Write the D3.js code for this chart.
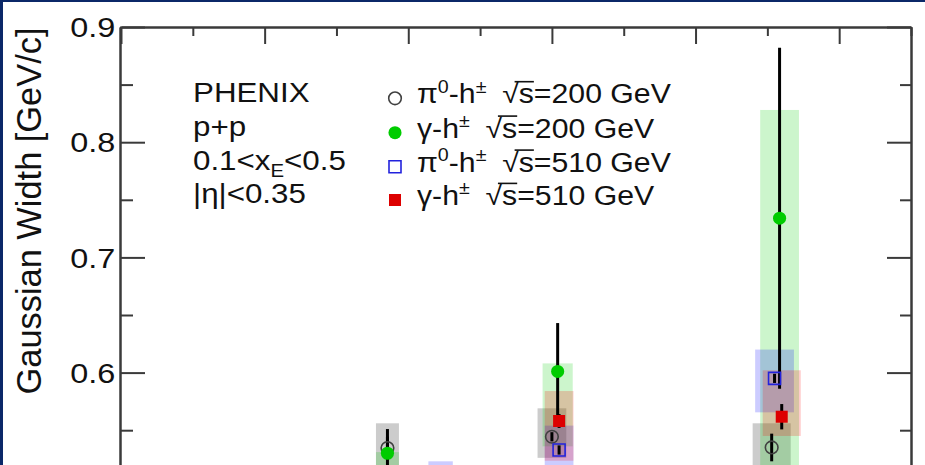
<!DOCTYPE html>
<html>
<head>
<meta charset="utf-8">
<script src="https://cdn.jsdelivr.net/npm/d3@7"></script>
<style>
  body { margin: 0; background: #fff; overflow: hidden; }
  svg { display: block; }
</style>
</head>
<body>
<div id="chart"></div>
<script>
// ---- data ----
var xMajor = [0, 2, 4, 6, 8, 10];
var xMinor = [1, 3, 5, 7, 9, 11];
var yMajor = [0.4, 0.5, 0.6, 0.7, 0.8, 0.9];
var yMinor = [0.45, 0.55, 0.65, 0.75, 0.85];
var yTickLabels = ["0.4", "0.5", "0.6", "0.7", "0.8", "0.9"];

// pi0-h, sqrt(s)=200 GeV
var pi0_200_x     = [3.71, 6.00, 9.06];
var pi0_200_w     = [0.16, 0.20, 0.265];
var pi0_200_val   = [0.5345, 0.5443, 0.535];
var pi0_200_stat  = [0.010, 0.004, 0.012];
var pi0_200_sysHi = [0.556, 0.569, 0.556];
var pi0_200_sysLo = [0.513, 0.526, 0.514];

// gamma-h, sqrt(s)=200 GeV
var gam_200_x     = [3.71, 6.08, 9.17];
var gam_200_w     = [0.16, 0.21, 0.27];
var gam_200_val   = [0.530, 0.601, 0.734];
var gam_200_stat  = [0.021, 0.042, 0.148];
var gam_200_sysHi = [0.531, 0.608, 0.828];
var gam_200_sysLo = [0.450, 0.536, 0.480];

// pi0-h, sqrt(s)=510 GeV
var pi0_510_x     = [4.45, 6.10, 9.10];
var pi0_510_w     = [0.17, 0.20, 0.27];
var pi0_510_val   = [0.496, 0.5328, 0.595];
var pi0_510_stat  = [0.004, 0.004, 0.004];
var pi0_510_sysHi = [0.523, 0.554, 0.620];
var pi0_510_sysLo = [0.469, 0.512, 0.5655];

// gamma-h, sqrt(s)=510 GeV
var gam_510_x     = [4.45, 6.10, 9.20];
var gam_510_w     = [0.17, 0.20, 0.265];
var gam_510_val   = [0.470, 0.558, 0.5617];
var gam_510_stat  = [0.010, 0.006, 0.011];
var gam_510_sysHi = [0.495, 0.584, 0.602];
var gam_510_sysLo = [0.445, 0.5235, 0.545];

var legendParticle = ["π", "γ", "π", "γ"];
var legendEnergy   = ["200", "200", "510", "510"];
var infoLines      = ["PHENIX", "p+p", "0.1<x_E<0.5", "|η|<0.35"];
var yTitle = "Gaussian Width [GeV/c]";

// ---- setup ----
var W = 925, H = 465;
var font = "'Liberation Sans', Arial, sans-serif";
var fs = 27;

var svg = d3.select('#chart').append('svg')
    .attr('width', W)
    .attr('height', H)
    .style('font-family', font);

var x = d3.scaleLinear().domain([0, 11]).range([121, 911]);
var y = d3.scaleLinear().domain([0.4, 0.9]).range([603, 27]);

var series = [
    {x: pi0_200_x, w: pi0_200_w, v: pi0_200_val, st: pi0_200_stat, hi: pi0_200_sysHi, lo: pi0_200_sysLo,
     box: 'rgba(0,0,0,0.2)', sym: d3.symbolCircle, size: 125, fill: 'none', stroke: '#404040'},
    {x: gam_200_x, w: gam_200_w, v: gam_200_val, st: gam_200_stat, hi: gam_200_sysHi, lo: gam_200_sysLo,
     box: 'rgba(0,205,0,0.2)', sym: d3.symbolCircle, size: 135, fill: '#00cc00', stroke: 'none'},
    {x: pi0_510_x, w: pi0_510_w, v: pi0_510_val, st: pi0_510_stat, hi: pi0_510_sysHi, lo: pi0_510_sysLo,
     box: 'rgba(0,0,255,0.2)', sym: d3.symbolSquare, size: 144, fill: 'none', stroke: '#2222dd'},
    {x: gam_510_x, w: gam_510_w, v: gam_510_val, st: gam_510_stat, hi: gam_510_sysHi, lo: gam_510_sysLo,
     box: 'rgba(255,0,0,0.2)', sym: d3.symbolSquare, size: 144, fill: '#dd0000', stroke: 'none'}
];

// dark blue slide frame
svg.append('rect').attr('x', 0).attr('y', 0).attr('width', W).attr('height', 2).attr('fill', '#0b2868');
svg.append('rect').attr('x', 0).attr('y', 0).attr('width', 3).attr('height', H).attr('fill', '#0b2868');

// ---- systematic boxes ----
series.forEach(function (s) {
    svg.append('g').selectAll('rect')
        .data(d3.range(s.x.length))
        .enter().append('rect')
            .attr('x', function (i) { return x(s.x[i] - s.w[i]); })
            .attr('width', function (i) { return x(s.x[i] + s.w[i]) - x(s.x[i] - s.w[i]); })
            .attr('y', function (i) { return y(s.hi[i]); })
            .attr('height', function (i) { return y(s.lo[i]) - y(s.hi[i]); })
            .attr('fill', s.box);
});

// ---- statistical error bars ----
series.forEach(function (s) {
    svg.append('g').selectAll('line')
        .data(d3.range(s.x.length))
        .enter().append('line')
            .attr('x1', function (i) { return x(s.x[i]); })
            .attr('x2', function (i) { return x(s.x[i]); })
            .attr('y1', function (i) { return y(s.v[i] + s.st[i]); })
            .attr('y2', function (i) { return y(s.v[i] - s.st[i]); })
            .attr('stroke', '#000')
            .attr('stroke-width', 3);
});

// ---- markers ----
series.forEach(function (s) {
    svg.append('g').selectAll('path')
        .data(d3.range(s.x.length))
        .enter().append('path')
            .attr('transform', function (i) { return 'translate(' + x(s.x[i]) + ',' + y(s.v[i]) + ')'; })
            .attr('d', d3.symbol().type(s.sym).size(s.size))
            .attr('fill', s.fill)
            .attr('stroke', s.stroke)
            .attr('stroke-width', 1.6);
});

// ---- axes / frame ----
function styleAxis(g) {
    g.attr('color', '#3a3a3a');
    g.selectAll('path, line').attr('stroke-width', 2);
}

svg.append('g').attr('transform', 'translate(0,27)')
    .call(d3.axisTop(x).tickValues(xMajor).tickSize(-17).tickSizeOuter(0).tickFormat(''))
    .call(styleAxis);
svg.append('g').attr('transform', 'translate(0,27)')
    .call(d3.axisTop(x).tickValues(xMinor).tickSize(-9).tickSizeOuter(0).tickFormat(''))
    .call(styleAxis);
// bottom axis lies below the visible crop
svg.append('g').attr('transform', 'translate(0,603)')
    .call(d3.axisBottom(x).tickValues(xMajor).tickSize(-17).tickSizeOuter(0).tickFormat(''))
    .call(styleAxis);

var yLeft = svg.append('g').attr('transform', 'translate(120,0)')
    .call(d3.axisLeft(y).tickValues(yMajor).tickSize(-25).tickSizeOuter(0).tickPadding(4)
        .tickFormat(function (d, i) { return yTickLabels[i]; }))
    .call(styleAxis);
yLeft.selectAll('text')
    .attr('font-size', fs)
    .attr('font-family', font)
    .attr('fill', '#111')
    .attr('dy', '0.36em')
    .attr('transform', 'scale(1.2,1)');
yLeft.selectAll('.tick').filter(function (d) { return y(d) > H; }).remove();
svg.append('g').attr('transform', 'translate(120,0)')
    .call(d3.axisLeft(y).tickValues(yMinor).tickSize(-13).tickSizeOuter(0).tickFormat(''))
    .call(styleAxis);
svg.append('g').attr('transform', 'translate(911,0)')
    .call(d3.axisRight(y).tickValues(yMajor).tickSize(-24).tickSizeOuter(0).tickFormat(''))
    .call(styleAxis);
svg.append('g').attr('transform', 'translate(911,0)')
    .call(d3.axisRight(y).tickValues(yMinor).tickSize(-11).tickSizeOuter(0).tickFormat(''))
    .call(styleAxis);

// y title
svg.append('text')
    .attr('transform', 'translate(41,211) rotate(-90)')
    .attr('text-anchor', 'middle')
    .attr('font-size', 35)
    .attr('textLength', 367)
    .attr('lengthAdjust', 'spacingAndGlyphs')
    .attr('fill', '#111')
    .text(yTitle);

// ---- rich text helper ----
function richText(px, py, sx, parts) {
    var g = svg.append('g').attr('transform', 'translate(' + px + ',' + py + ') scale(' + sx + ',1)');
    var t = g.append('text').attr('font-size', fs).attr('fill', '#111');
    var idx = 0, over = [];
    parts.forEach(function (p) {
        var ts = t.append('tspan').text(p.t);
        if (p.dx) ts.attr('dx', p.dx);
        if (p.dy) ts.attr('dy', p.dy);
        if (p.fs) ts.attr('font-size', p.fs);
        if (p.over) over.push(idx);
        idx += p.t.length;
    });
    over.forEach(function (i) {
        var e = t.node().getExtentOfChar(i);
        var r = t.node().getExtentOfChar(i - 1);
        g.append('line')
            .attr('x1', r.x + r.width * 0.75).attr('x2', e.x + e.width)
            .attr('y1', -0.8 * fs).attr('y2', -0.8 * fs)
            .attr('stroke', '#111').attr('stroke-width', 1.6);
    });
}

var sup = fs * 0.65, up = -fs * 0.4, sub = fs * 0.25;

// info block
var infoY = [102, 136, 170, 203];
var infoSx = 1.16;
richText(193, infoY[0], infoSx, [{t: infoLines[0]}]);
richText(193, infoY[1], infoSx, [{t: infoLines[1]}]);
var xe = infoLines[2].split('_');
richText(193, infoY[2], infoSx, [{t: xe[0]}, {t: 'E', fs: sup, dy: sub}, {t: xe[1].slice(1), fs: fs, dy: -sub}]);
richText(193, infoY[3], infoSx, [{t: infoLines[3]}]);

// legend
var legY = [98.3, 132.7, 166.7, 200];
series.forEach(function (s, k) {
    svg.append('path')
        .attr('transform', 'translate(395,' + legY[k] + ')')
        .attr('d', d3.symbol().type(s.sym).size(s.size))
        .attr('fill', s.fill)
        .attr('stroke', s.stroke)
        .attr('stroke-width', 1.6);
    var parts = [{t: legendParticle[k]}];
    if (legendParticle[k] === 'π') parts.push({t: '0', fs: sup, dy: up});
    parts.push({t: '-h', fs: fs, dy: parts.length > 1 ? -up : 0});
    parts.push({t: '±', fs: sup, dy: up});
    parts.push({t: '√', fs: fs, dy: -up, dx: 14});
    parts.push({t: 's', over: true});
    parts.push({t: '=' + legendEnergy[k] + ' GeV'});
    richText(417, legY[k] + 5, 1.12, parts);
});
</script>
</body>
</html>
